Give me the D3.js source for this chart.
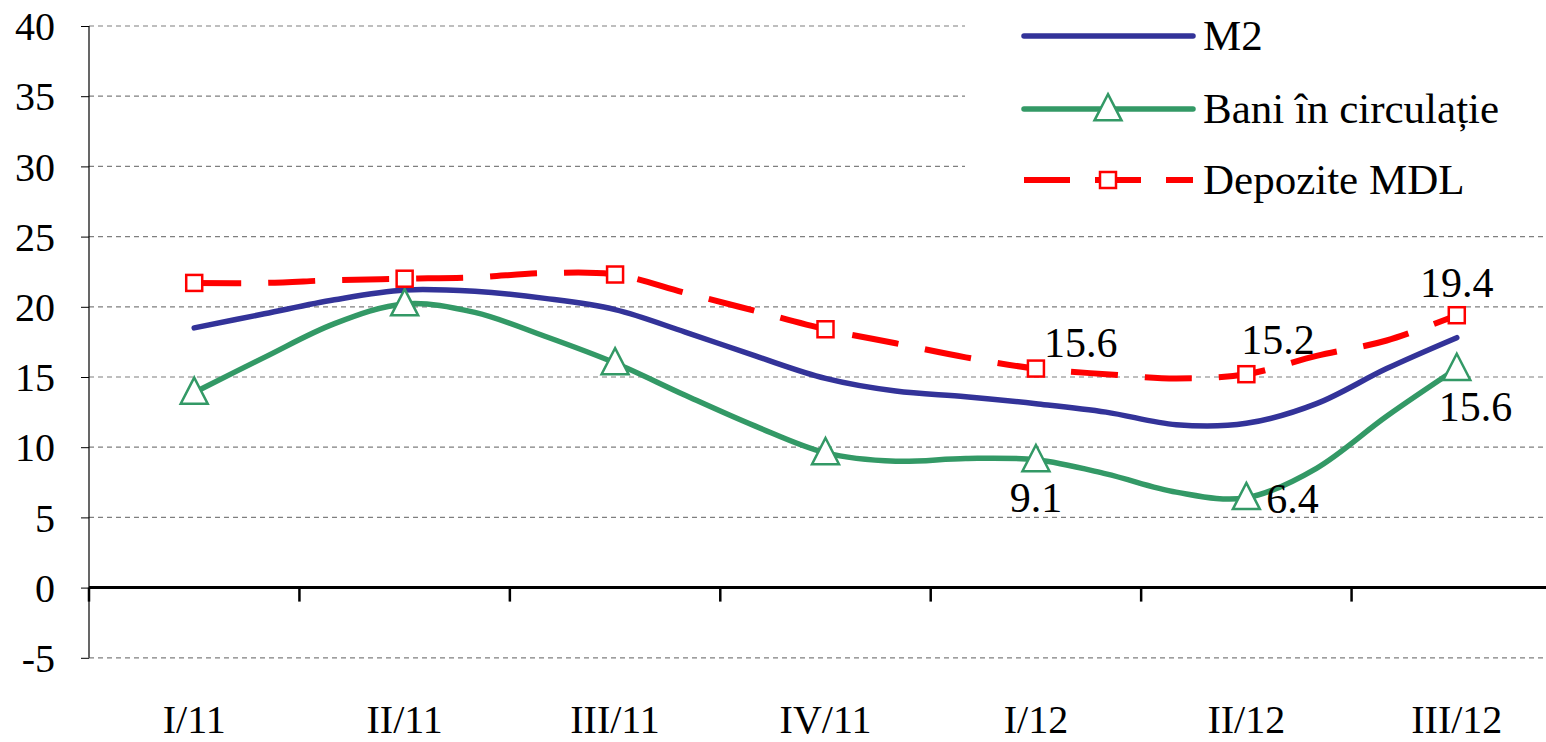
<!DOCTYPE html>
<html>
<head>
<meta charset="utf-8">
<script src="https://cdn.jsdelivr.net/npm/d3@7"></script>
<style>
  html, body { margin: 0; padding: 0; background: #fff; }
  svg { display: block; }
  text { font-family: "Liberation Serif", "Times New Roman", serif; fill: #000; }
</style>
</head>
<body>
<svg id="chart" width="1546" height="742"></svg>
<script>
// ---- Data ----
const quarters = ["I/11", "II/11", "III/11", "IV/11", "I/12", "II/12", "III/12"];
const yTicks = [-5, 0, 5, 10, 15, 20, 25, 30, 35, 40];
const seriesNames = ["M2", "Bani în circulație", "Depozite MDL"];
// monthly values, March 2011 .. September 2012 (every 3rd point is a quarter end)
const m2 = [18.5, 19.5, 20.5, 21.2, 21.1, 20.6, 19.8, 18.2, 16.5, 14.9, 14.0, 13.6, 13.1, 12.5, 11.6, 11.7, 13.1, 15.6, 17.8];
const bani = [13.9, 16.4, 18.8, 20.2, 19.6, 17.9, 16.0, 13.7, 11.5, 9.6, 9.0, 9.2, 9.1, 8.1, 6.8, 6.4, 8.5, 12.2, 15.6];
const depozite = [21.7, 21.7, 21.9, 22.0, 22.1, 22.4, 22.3, 21.0, 19.7, 18.4, 17.4, 16.4, 15.6, 15.2, 14.9, 15.2, 16.5, 17.6, 19.4];
// data labels: series, point index
const labelPoints = [
  { s: 2, i: 12 }, { s: 2, i: 15 }, { s: 2, i: 18 },
  { s: 1, i: 12 }, { s: 1, i: 15 }, { s: 1, i: 18 }
];

(function () {
// ---- Styles ----
const colors = ["#333399", "#339966", "#FF0000"];
const labelPlacement = {
  "2-12": { dx: 8, dy: -12, anchor: "start" },
  "2-15": { dx: -5, dy: -20, anchor: "start" },
  "2-18": { dx: 0, dy: -18, anchor: "middle" },
  "1-12": { dx: 0, dy: 52, anchor: "middle" },
  "1-15": { dx: 20, dy: 15, anchor: "start" },
  "1-18": { dx: -18, dy: 52, anchor: "start" }
};

const svg = d3.select("#chart");
const pLeft = 89, pRight = 1562, pTop = 26, pBottom = 657.8;

const x = d3.scaleBand().domain(quarters).range([pLeft, pRight]).paddingInner(0).paddingOuter(0);
const y = d3.scaleLinear().domain([-5, 40]).range([pBottom, pTop]);
const bw = x.bandwidth();
const xm = i => x(quarters[0]) + bw / 2 + i * bw / 3;

const series = [m2, bani, depozite];

// gridlines
svg.append("g").selectAll("line").data(yTicks.filter(v => v !== 0)).join("line")
  .attr("x1", pLeft).attr("x2", 1546)
  .attr("y1", d => y(d)).attr("y2", d => y(d))
  .attr("stroke", "#7f7f7f").attr("stroke-width", 1.2)
  .attr("stroke-dasharray", "5,4");

// y axis
const yAxis = d3.axisLeft(y).tickValues(yTicks).tickSize(8).tickPadding(34).tickFormat(d => String(d));
const gy = svg.append("g").attr("transform", `translate(${pLeft},0)`).call(yAxis);
gy.select(".domain").remove();
gy.selectAll(".tick line").attr("stroke", "#000").attr("stroke-width", 1);
gy.selectAll(".tick text").attr("font-size", 40).attr("font-family", "Liberation Serif").attr("dy", "0.34em").attr("x", -34);
svg.append("line").attr("x1", pLeft).attr("x2", pLeft).attr("y1", y(40)).attr("y2", y(-5))
  .attr("stroke", "#000").attr("stroke-width", 1.2);

// x axis at zero
const xAxis = d3.axisBottom(x).tickSize(0).tickPadding(0);
const gx = svg.append("g").attr("transform", `translate(0,${y(0)})`).call(xAxis);
gx.select(".domain").remove();
gx.selectAll(".tick text").attr("font-size", 40).attr("font-family", "Liberation Serif")
  .attr("dy", 0).attr("y", 733 - y(0));
svg.append("line").attr("x1", pLeft).attr("x2", 1546).attr("y1", y(0)).attr("y2", y(0))
  .attr("stroke", "#000").attr("stroke-width", 3);
// tick marks between categories
svg.append("g").selectAll("line").data(quarters).join("line")
  .attr("x1", d => x(d)).attr("x2", d => x(d))
  .attr("y1", y(0)).attr("y2", y(0) + 14)
  .attr("stroke", "#000").attr("stroke-width", 2.5);

// legend background (covers top gridlines)
svg.append("rect").attr("x", 965).attr("y", 0).attr("width", 1546 - 965).attr("height", 215).attr("fill", "#fff");

// lines
const line = d3.line().x((d, i) => xm(i)).y(d => y(d)).curve(d3.curveCatmullRom.alpha(0));
svg.append("path").datum(m2).attr("d", line).attr("fill", "none")
  .attr("stroke", colors[0]).attr("stroke-width", 5.5).attr("stroke-linejoin", "round").attr("stroke-linecap", "round");
svg.append("path").datum(bani).attr("d", line).attr("fill", "none")
  .attr("stroke", colors[1]).attr("stroke-width", 5.5).attr("stroke-linejoin", "round").attr("stroke-linecap", "round");
svg.append("path").datum(depozite).attr("d", line).attr("fill", "none")
  .attr("stroke", colors[2]).attr("stroke-width", 6).attr("stroke-dasharray", "47,27");

// markers
const triPath = s => `M0,${-s * 0.55} L${s / 2},${s * 0.42} L${-s / 2},${s * 0.42} Z`;
const qIdx = d3.range(0, m2.length, 3);
svg.append("g").selectAll("path").data(qIdx).join("path")
  .attr("transform", i => `translate(${xm(i)},${y(bani[i])})`)
  .attr("d", triPath(27)).attr("fill", "#fff").attr("stroke", colors[1]).attr("stroke-width", 2.5);
svg.append("g").selectAll("rect").data(qIdx).join("rect")
  .attr("x", i => xm(i) - 8).attr("y", i => y(depozite[i]) - 8)
  .attr("width", 16).attr("height", 16)
  .attr("fill", "#fff").attr("stroke", colors[2]).attr("stroke-width", 2.5);

// data labels
svg.append("g").selectAll("text").data(labelPoints).join("text")
  .each(function (d) {
    const p = labelPlacement[d.s + "-" + d.i];
    d3.select(this)
      .attr("x", xm(d.i) + p.dx)
      .attr("y", y(series[d.s][d.i]) + p.dy)
      .attr("text-anchor", p.anchor)
      .attr("font-size", 42)
      .text(d3.format(".1f")(series[d.s][d.i]));
  });

// legend
const legY = [36, 109, 180];
const lg = svg.append("g");
seriesNames.forEach((name, k) => {
  const ly = legY[k];
  if (k < 2) {
    lg.append("line").attr("x1", 1024).attr("x2", 1193).attr("y1", ly).attr("y2", ly)
      .attr("stroke", colors[k]).attr("stroke-width", 5.5).attr("stroke-linecap", "round");
  } else {
    lg.append("line").attr("x1", 1024).attr("x2", 1193).attr("y1", ly).attr("y2", ly)
      .attr("stroke", colors[k]).attr("stroke-width", 6).attr("stroke-dasharray", "46,25");
  }
  if (k === 1) {
    lg.append("path").attr("transform", `translate(1108,${ly})`).attr("d", triPath(27))
      .attr("fill", "#fff").attr("stroke", colors[1]).attr("stroke-width", 2.5);
  }
  if (k === 2) {
    lg.append("rect").attr("x", 1100).attr("y", ly - 8).attr("width", 16).attr("height", 16)
      .attr("fill", "#fff").attr("stroke", colors[2]).attr("stroke-width", 2.5);
  }
  lg.append("text").attr("x", 1203).attr("y", ly + 14).attr("font-size", 43).text(name);
});
})();
</script>
</body>
</html>
